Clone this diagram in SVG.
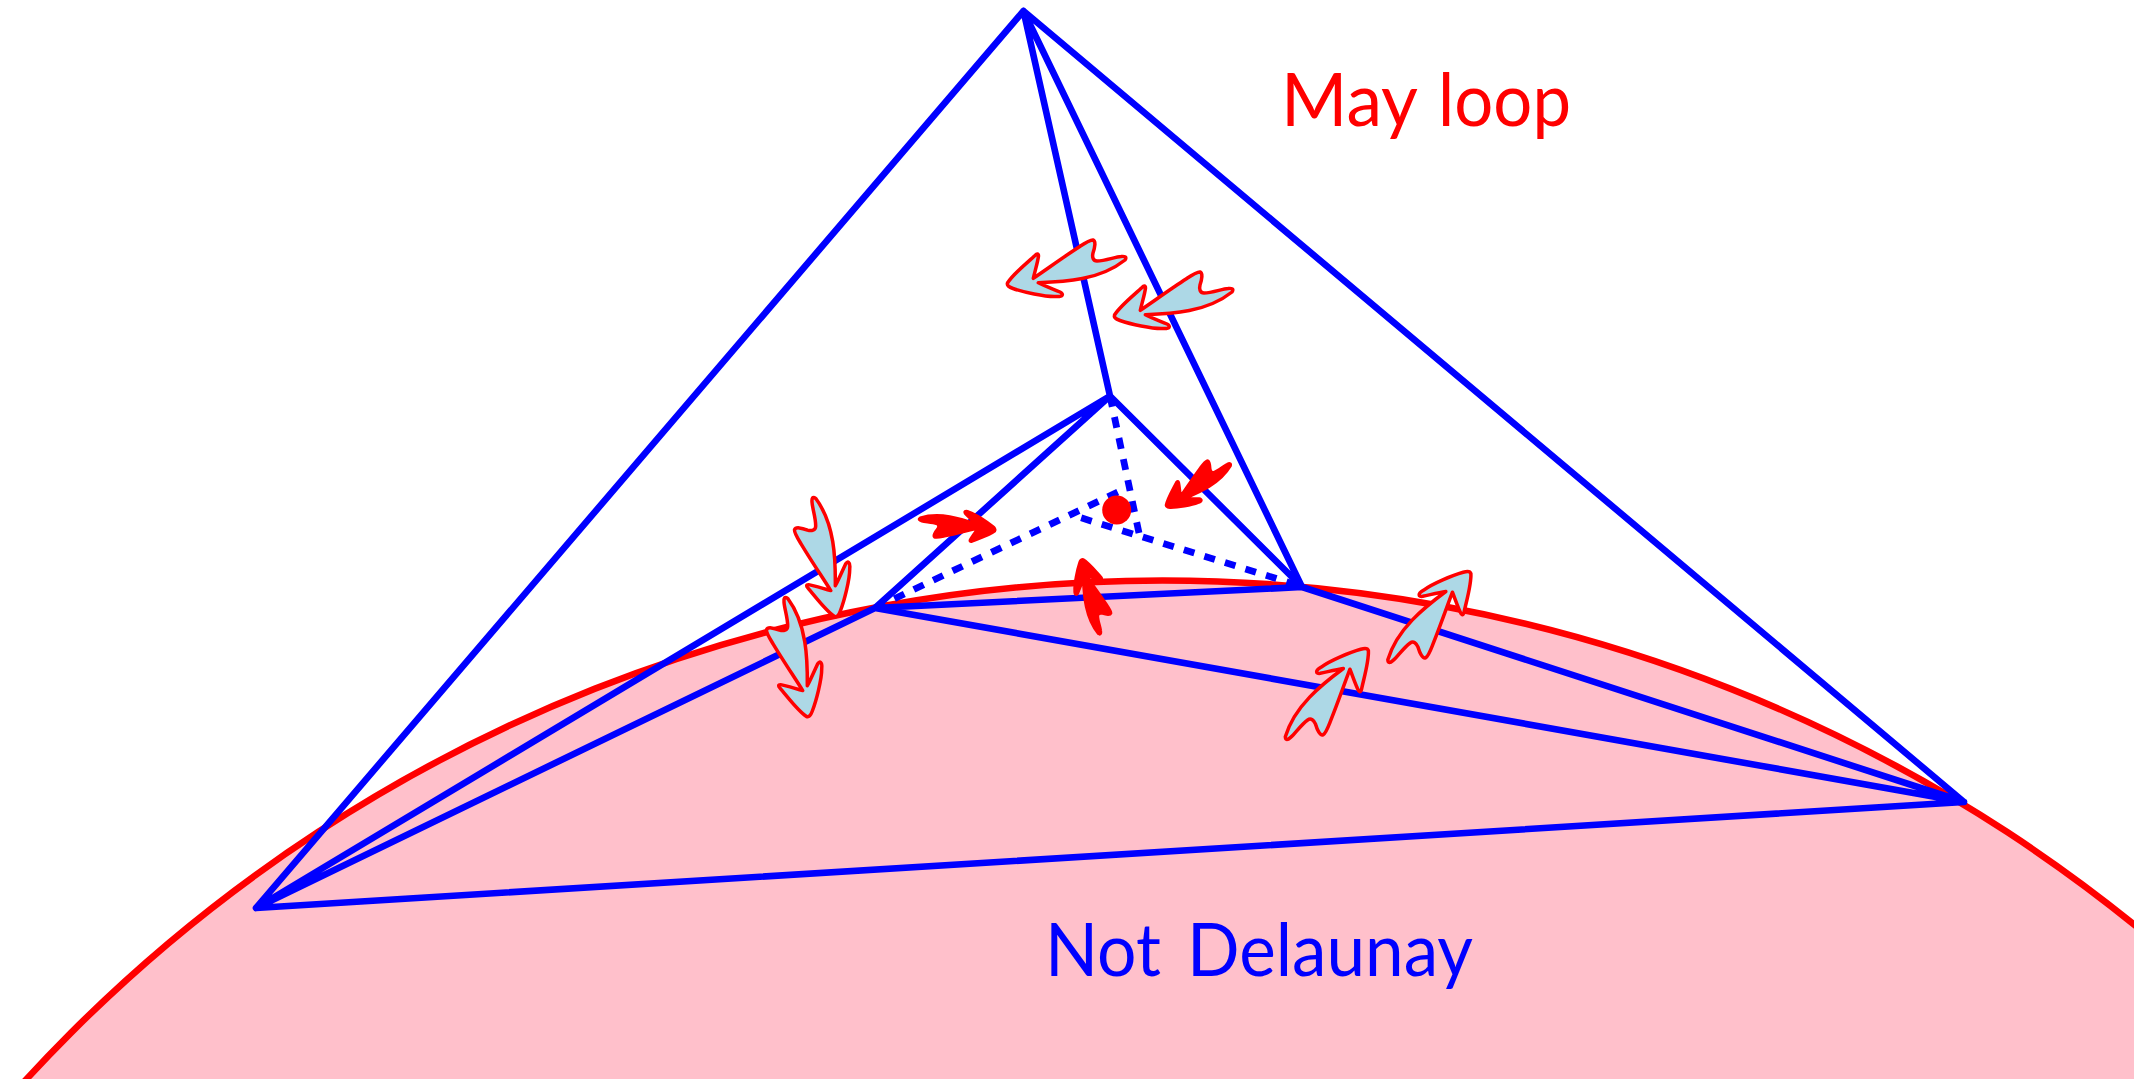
<svg xmlns="http://www.w3.org/2000/svg" xmlns:xlink="http://www.w3.org/1999/xlink" width="2134" height="1079" viewBox="0 0 2134 1079">
<style>
.e{fill:none;stroke:#00f;stroke-width:6.6;stroke-linecap:round;stroke-linejoin:round}
.d{fill:none;stroke:#00f;stroke-width:6.8;stroke-dasharray:11 10.5}
.a{fill:#add8e6;stroke:#f00;stroke-width:3.5;stroke-linejoin:round}
.s{fill:#f00;stroke:#f00;stroke-width:5;stroke-linejoin:round}
.t{font-family:Lato,"Liberation Sans",Arial,sans-serif;font-size:74px}
</style>
<defs>
<path id="arr" d="M-1.7 -2.7C0 -10 3 -20 3.5 -25C3.5 -28 1.5 -27 0 -25.5C-8 -18 -22 -7 -27.5 2C-28.5 5 -25 6.5 -22 7.5C-12 11 10 16 21 15.5C28 16 29 13 25 11C18 8 10 5 3.3 1.7C30 1 65 -1 90 -21C92 -24 90 -25 86 -24.5C80 -24 70 -20 62 -20C58 -20 57 -24 58 -28C60 -34 61 -40 58 -41C55 -41.5 50 -38 44 -34C30 -25 12 -12 -1.7 -2.7Z"/>
</defs>
<rect width="2134" height="1079" fill="#fff"/>
<circle id="circle" cx="1162.6" cy="2124" r="1543.5" fill="#ffc0cb" stroke="#f00" stroke-width="6.6"/>
<g id="connectors">
<path class="e" d="M1023.5 11L256 908L1964 802ZM1023.5 11L1110 396M1023.5 11L1302 587M256 908L1110 396M256 908L875 608L1110 396L1302 587L1964 802L875 608L1302 587"/>
<path class="d" d="M875 608L1120 491"/>
<path class="d" d="M1110 396L1139 533"/>
<path class="d" d="M1297 585L1072 515"/>
</g>
<circle id="point" cx="1116.7" cy="510" r="14.5" fill="#f00"/>
<g id="arrows">
<use href="#arr" class="a" transform="translate(1035 281)"/>
<use href="#arr" class="a" transform="translate(1142 313)"/>
<use href="#arr" class="a" transform="translate(833.5 589) rotate(-88)"/>
<use href="#arr" class="a" transform="translate(805.5 689) rotate(-88)"/>
<use href="#arr" class="a" transform="translate(1347 668) rotate(145)"/>
<use href="#arr" class="a" transform="translate(1449.5 591) rotate(145)"/>
<use href="#arr" class="s" transform="translate(978 526) rotate(201) scale(.63)"/>
<use href="#arr" class="s" transform="translate(1182 498) rotate(-20.7) scale(.63)"/>
<use href="#arr" class="s" transform="translate(1084.5 577) rotate(89.3) scale(.63)"/>
</g>
<g id="label-may-loop"><text class="t" fill="#f00" y="126"><tspan x="1281" textLength="137" lengthAdjust="spacingAndGlyphs">May</tspan><tspan x="1438" textLength="133" lengthAdjust="spacingAndGlyphs">loop</tspan></text></g>
<g id="label-not-delaunay"><text class="t" fill="#00f" y="976"><tspan x="1045" textLength="116" lengthAdjust="spacingAndGlyphs">Not</tspan><tspan x="1187" textLength="286" lengthAdjust="spacingAndGlyphs">Delaunay</tspan></text></g>
</svg>
